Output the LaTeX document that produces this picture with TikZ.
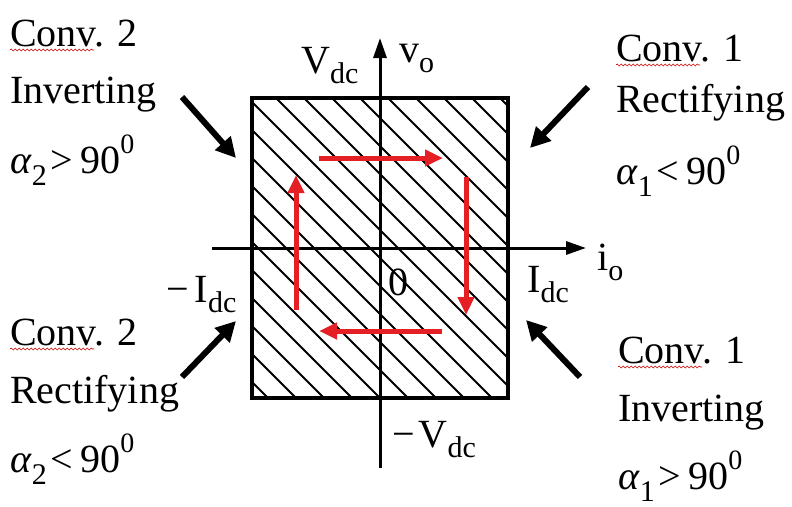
\documentclass[tikz,border=0pt]{standalone}
\usepackage{fontspec}
\setmainfont{Liberation Serif}
\usetikzlibrary{arrows.meta,decorations.pathmorphing}
\definecolor{flowred}{RGB}{228,32,36}
\newcommand\lsub[1]{\raisebox{-10pt}{\fontsize{30}{30}\selectfont #1}}
\newcommand\lsup[1]{\raisebox{20pt}{\fontsize{28}{28}\selectfont #1}}
\newcommand\alsub[1]{\raisebox{-12pt}{\fontsize{30}{30}\selectfont #1}}
\begin{document}
\begin{tikzpicture}[x=1pt,y=-1pt,
 lbl/.style={anchor=base west,inner sep=0pt,font=\fontsize{40}{44}\selectfont},
 axis/.style={line width=3pt,-{Triangle[length=20pt,width=13pt]}},
 pointer/.style={line width=6pt,-{Triangle[length=20pt,width=20pt]}},
 flow/.style={line width=5pt,draw=flowred,-{Triangle[length=18pt,width=16pt]}},
 hatch/.style={line width=1.8pt},
 squiggle/.style={draw=red!80!black,line width=0.6pt,decorate,decoration={snake,amplitude=1pt,segment length=4pt}}]
\useasboundingbox[fill=white] (0,0) rectangle (792,506);
% hatching
\begin{scope}
\clip (252,98) rectangle (508,398);
\foreach \c in {-32,-4,...,510} \draw[hatch] (\c,98) -- ++(310,310);
\end{scope}
\node[draw,line width=3.5pt,minimum width=256pt,minimum height=300pt,inner sep=0pt] (box) at (380,248) {};
% axes
\coordinate (yb) at (380,468); \coordinate (yt) at (380,38);
\coordinate (xl) at (212,248); \coordinate (xr) at (586,248);
\draw[axis] (yb) -- (yt);
\draw[axis] (xl) -- (xr);
% red flow arrows
\coordinate (f1s) at (319,158); \coordinate (f1e) at (443,158);
\coordinate (f2s) at (466,177); \coordinate (f2e) at (466,315);
\coordinate (f3s) at (442,331); \coordinate (f3e) at (319,331);
\coordinate (f4s) at (296,310); \coordinate (f4e) at (296,175);
\draw[flow] (f1s) -- (f1e);
\draw[flow] (f2s) -- (f2e);
\draw[flow] (f3s) -- (f3e);
\draw[flow] (f4s) -- (f4e);
% axis labels
\node[lbl] (vdc) at (301,73) {V\lsub{dc}};
\node[lbl] (vo) at (399,62) {v\lsub{o}};
\node[lbl] (mIdc) at (166,302) {−\hspace{6pt}I\lsub{dc}};
\node[lbl] (Idc) at (527,292) {I\lsub{dc}};
\node[lbl] (io) at (597,270) {i\lsub{o}};
\node[lbl] (mVdc) at (392,447) {−\hspace{4pt}V\lsub{dc}};
\node[lbl] (zero) at (388,295) {0};
% text blocks
\node[lbl] (tl1) at (10,46) {Conv. 2};
\node[lbl] (tl2) at (10,103) {Inverting};
\node[lbl] (tl3) at (10,173) {\textit{α}\alsub{2}\hspace{4pt}>\hspace{7pt}90\lsup{0}};
\node[lbl] (tr1) at (616,61) {Conv. 1};
\node[lbl] (tr2) at (616,112) {Rectifying};
\node[lbl] (tr3) at (616,184) {\textit{α}\alsub{1}\hspace{4pt}<\hspace{7pt}90\lsup{0}};
\node[lbl] (bl1) at (10,345) {Conv. 2};
\node[lbl] (bl2) at (10,403) {Rectifying};
\node[lbl] (bl3) at (10,472) {\textit{α}\alsub{2}\hspace{4pt}<\hspace{7pt}90\lsup{0}};
\node[lbl] (br1) at (618,363) {Conv. 1};
\node[lbl] (br2) at (618,421) {Inverting};
\node[lbl] (br3) at (618,489) {\textit{α}\alsub{1}\hspace{4pt}>\hspace{7pt}90\lsup{0}};
% spell-check squiggles
\draw[squiggle] ([yshift=-4pt]tl1.base west) -- ++(84,0);
\draw[squiggle] ([yshift=-4pt]tr1.base west) -- ++(84,0);
\draw[squiggle] ([yshift=-4pt]bl1.base west) -- ++(84,0);
\draw[squiggle] ([yshift=-4pt]br1.base west) -- ++(84,0);
% pointer arrows
\coordinate (p1s) at (182,97);  \coordinate (p1e) at (236,158);
\coordinate (p2s) at (588,87);  \coordinate (p2e) at (530,148);
\coordinate (p3s) at (182,377); \coordinate (p3e) at (236,321);
\coordinate (p4s) at (580,377); \coordinate (p4e) at (526,320);
\draw[pointer] (p1s) -- (p1e);
\draw[pointer] (p2s) -- (p2e);
\draw[pointer] (p3s) -- (p3e);
\draw[pointer] (p4s) -- (p4e);
\end{tikzpicture}
\end{document}
